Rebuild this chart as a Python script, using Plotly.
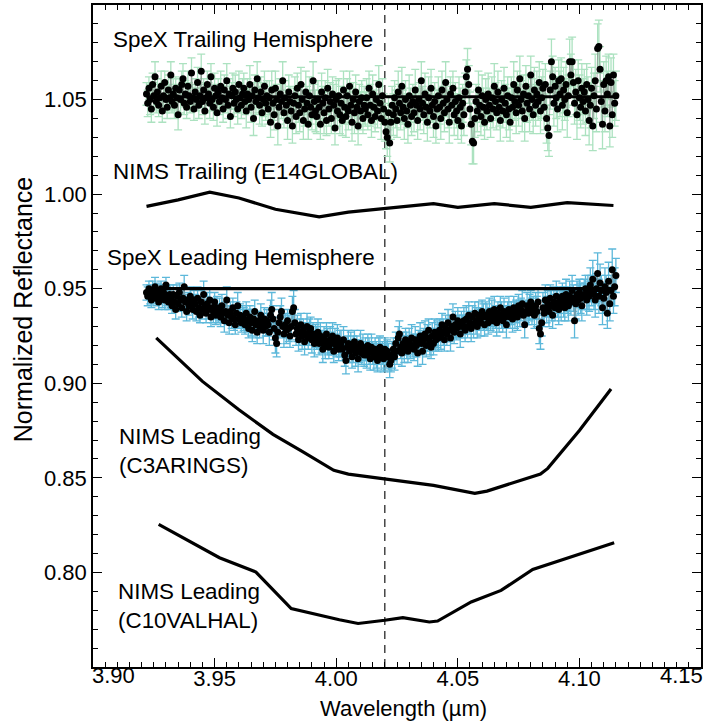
import numpy as np
import plotly.graph_objects as go

# ---------------- data ----------------
spex_x_start = 3.922
spex_x_step = 0.0005

trail_y = [
    1.053, 1.048, 1.056, 1.050, 1.045, 1.058, 1.052, 1.062, 1.049, 1.054, 1.047, 1.051, 1.057, 1.044, 1.052, 1.059, 1.050, 1.046, 1.055, 1.051,
    1.063, 1.049, 1.053, 1.047, 1.056, 1.051, 1.042, 1.055, 1.050, 1.058, 1.061, 1.048, 1.053, 1.046, 1.057, 1.052, 1.049, 1.064, 1.051, 1.045,
    1.054, 1.050, 1.059, 1.047, 1.052, 1.065, 1.049, 1.055, 1.044, 1.051, 1.058, 1.053, 1.048, 1.062, 1.050, 1.046, 1.056, 1.052, 1.043, 1.054,
    1.049, 1.057, 1.051, 1.045, 1.055, 1.050, 1.060, 1.047, 1.053, 1.041, 1.052, 1.056, 1.048, 1.054, 1.050, 1.045, 1.058, 1.051, 1.047, 1.053,
    1.056, 1.049, 1.044, 1.053, 1.050, 1.058, 1.046, 1.052, 1.040, 1.055, 1.049, 1.061, 1.051, 1.047, 1.054, 1.043, 1.050, 1.057, 1.048, 1.052,
    1.045, 1.051, 1.038, 1.055, 1.048, 1.042, 1.056, 1.050, 1.036, 1.046, 1.053, 1.049, 1.060, 1.043, 1.051, 1.047, 1.039, 1.054, 1.049, 1.044,
    1.036, 1.048, 1.052, 1.041, 1.056, 1.047, 1.043, 1.058, 1.050, 1.039, 1.045, 1.054, 1.048, 1.037, 1.052, 1.046, 1.042, 1.060, 1.049, 1.044,
    1.041, 1.050, 1.046, 1.037, 1.054, 1.048, 1.043, 1.051, 1.039, 1.056, 1.045, 1.049, 1.040, 1.053, 1.047, 1.035, 1.050, 1.044, 1.052, 1.042,
    1.048, 1.039, 1.055, 1.046, 1.041, 1.052, 1.044, 1.057, 1.047, 1.038, 1.050, 1.043, 1.054, 1.046, 1.036, 1.049, 1.044, 1.051, 1.040, 1.047,
    1.045, 1.051, 1.042, 1.056, 1.047, 1.039, 1.053, 1.046, 1.041, 1.050, 1.044, 1.058, 1.048, 1.040, 1.052, 1.045, 1.038, 1.033, 1.030, 1.043,
    1.027, 1.038, 1.047, 1.042, 1.051, 1.045, 1.039, 1.054, 1.048, 1.043, 1.057, 1.046, 1.040, 1.050, 1.044, 1.037, 1.052, 1.047, 1.041, 1.049,
    1.043, 1.055, 1.047, 1.039, 1.050, 1.045, 1.060, 1.048, 1.042, 1.053, 1.046, 1.038, 1.051, 1.044, 1.056, 1.047, 1.041, 1.049, 1.036, 1.045,
    1.052, 1.046, 1.040, 1.055, 1.048, 1.043, 1.059, 1.050, 1.045, 1.038, 1.053, 1.047, 1.056, 1.042, 1.049, 1.044, 1.039, 1.051, 1.046, 1.036,
    1.048, 1.042, 1.054, 1.062, 1.066, 1.058, 1.045, 1.037, 1.028, 1.027, 1.040, 1.049, 1.044, 1.055, 1.047, 1.041, 1.052, 1.046, 1.038, 1.050,
    1.044, 1.053, 1.047, 1.040, 1.051, 1.045, 1.057, 1.049, 1.043, 1.054, 1.046, 1.039, 1.050, 1.044, 1.056, 1.048, 1.042, 1.052, 1.045, 1.038,
    1.051, 1.046, 1.058, 1.049, 1.043, 1.055, 1.047, 1.061, 1.050, 1.044, 1.053, 1.040, 1.057, 1.048, 1.052, 1.045, 1.063, 1.050, 1.042, 1.055,
    1.047, 1.053, 1.049, 1.059, 1.044, 1.051, 1.056, 1.046, 1.058, 1.040, 1.035, 1.031, 1.055, 1.070, 1.062, 1.048, 1.057, 1.051, 1.045, 1.060,
    1.053, 1.061, 1.047, 1.055, 1.050, 1.058, 1.043, 1.052, 1.070, 1.063, 1.070, 1.059, 1.048, 1.054, 1.042, 1.060, 1.051, 1.046, 1.056, 1.049,
    1.054, 1.044, 1.058, 1.050, 1.039, 1.047, 1.056, 1.036, 1.052, 1.060, 1.045, 1.077, 1.078, 1.066, 1.049, 1.037, 1.058, 1.044, 1.060, 1.053,
    1.062, 1.036, 1.059, 1.042, 1.063, 1.048, 1.052,
]
trail_err_milli = [
    6, 7, 6, 8, 7, 6, 7, 8, 6, 7, 6, 7, 8, 6, 7, 6, 7, 6, 8, 7,
    7, 6, 8, 7, 6, 7, 8, 6, 7, 7, 8, 6, 7, 6, 8, 7, 6, 8, 7, 6,
    7, 6, 8, 7, 6, 9, 7, 6, 7, 8, 7, 6, 8, 7, 6, 7, 8, 6, 7, 7,
    7, 8, 6, 7, 8, 7, 9, 7, 8, 6, 7, 8, 7, 9, 7, 8, 7, 8, 7, 8,
    8, 7, 9, 8, 7, 10, 8, 7, 9, 8, 7, 9, 8, 10, 8, 7, 9, 8, 9, 8,
    8, 9, 8, 10, 9, 8, 9, 8, 10, 9, 8, 9, 10, 8, 9, 8, 10, 9, 8, 9,
    9, 8, 10, 9, 8, 9, 10, 9, 8, 10, 9, 11, 9, 8, 10, 9, 8, 10, 9, 11,
    9, 10, 9, 8, 10, 9, 11, 9, 8, 10, 9, 10, 8, 9, 11, 9, 10, 8, 9, 10,
    9, 8, 10, 9, 11, 9, 10, 8, 9, 10, 9, 11, 9, 8, 10, 9, 10, 9, 8, 10,
    9, 10, 8, 9, 11, 9, 10, 9, 8, 10, 9, 10, 9, 11, 9, 8, 10, 9, 10, 9,
    10, 9, 10, 11, 9, 10, 9, 11, 10, 9, 10, 9, 11, 10, 9, 10, 11, 9, 10, 9,
    10, 11, 9, 10, 9, 11, 10, 9, 10, 11, 9, 10, 11, 9, 10, 9, 11, 10, 9, 10,
    10, 9, 11, 10, 9, 10, 11, 9, 10, 11, 9, 10, 9, 11, 10, 9, 10, 11, 10, 9,
    10, 11, 10, 9, 11, 10, 9, 11, 12, 11, 10, 9, 11, 10, 9, 10, 11, 10, 9, 11,
    10, 11, 9, 10, 11, 10, 12, 10, 9, 11, 10, 11, 10, 9, 11, 10, 12, 10, 11, 10,
    11, 10, 12, 10, 11, 10, 11, 12, 10, 11, 10, 12, 11, 10, 11, 12, 10, 11, 10, 12,
    11, 12, 10, 11, 12, 11, 10, 12, 11, 13, 12, 11, 10, 12, 11, 12, 10, 11, 12, 11,
    12, 11, 13, 12, 11, 12, 13, 11, 12, 11, 13, 12, 11, 12, 13, 11, 12, 11, 13, 12,
    12, 13, 11, 12, 13, 12, 11, 13, 12, 14, 12, 13, 14, 12, 11, 13, 12, 11, 13, 12,
    12, 11, 13, 12, 11, 12, 13,
]

lead_y = [
    0.948, 0.946, 0.950, 0.947, 0.944, 0.949, 0.946, 0.951, 0.945, 0.948, 0.943, 0.947, 0.950, 0.945, 0.948, 0.944, 0.952, 0.946, 0.943, 0.947,
    0.945, 0.941, 0.947, 0.943, 0.939, 0.946, 0.942, 0.948, 0.944, 0.940, 0.945, 0.951, 0.943, 0.938, 0.944, 0.941, 0.946, 0.942, 0.939, 0.944,
    0.942, 0.938, 0.945, 0.940, 0.936, 0.943, 0.939, 0.947, 0.941, 0.937, 0.942, 0.939, 0.944, 0.935, 0.940, 0.938, 0.943, 0.936, 0.940, 0.937,
    0.939, 0.935, 0.941, 0.937, 0.933, 0.938, 0.944, 0.936, 0.932, 0.938, 0.935, 0.940, 0.934, 0.931, 0.937, 0.941, 0.934, 0.936, 0.932, 0.935,
    0.934, 0.931, 0.937, 0.933, 0.929, 0.935, 0.932, 0.928, 0.934, 0.938, 0.931, 0.927, 0.933, 0.930, 0.936, 0.932, 0.928, 0.934, 0.930, 0.933,
    0.931, 0.927, 0.936, 0.939, 0.934, 0.929, 0.924, 0.921, 0.927, 0.932, 0.935, 0.938, 0.930, 0.926, 0.931, 0.928, 0.933, 0.929, 0.925, 0.930,
    0.938, 0.940, 0.932, 0.926, 0.929, 0.923, 0.927, 0.931, 0.925, 0.928, 0.922, 0.926, 0.930, 0.924, 0.927, 0.929, 0.923, 0.926, 0.921, 0.925,
    0.924, 0.927, 0.921, 0.925, 0.922, 0.918, 0.924, 0.920, 0.926, 0.922, 0.919, 0.923, 0.921, 0.925, 0.917, 0.922, 0.920, 0.924, 0.918, 0.921,
    0.921, 0.918, 0.923, 0.915, 0.912, 0.919, 0.921, 0.917, 0.920, 0.914, 0.918, 0.922, 0.916, 0.919, 0.913, 0.917, 0.921, 0.916, 0.919, 0.915,
    0.918, 0.915, 0.920, 0.917, 0.913, 0.919, 0.916, 0.914, 0.918, 0.915, 0.912, 0.917, 0.919, 0.914, 0.916, 0.913, 0.918, 0.915, 0.917, 0.914,
    0.910, 0.912, 0.915, 0.918, 0.914, 0.921, 0.917, 0.924, 0.926, 0.919, 0.916, 0.921, 0.918, 0.923, 0.920, 0.917, 0.922, 0.919, 0.924, 0.920,
    0.918, 0.923, 0.920, 0.916, 0.922, 0.925, 0.921, 0.917, 0.923, 0.926, 0.920, 0.924, 0.928, 0.922, 0.919, 0.925, 0.921, 0.927, 0.923, 0.926,
    0.924, 0.928, 0.925, 0.931, 0.927, 0.923, 0.929, 0.926, 0.932, 0.928, 0.924, 0.930, 0.935, 0.927, 0.931, 0.929, 0.933, 0.930, 0.926, 0.932,
    0.930, 0.933, 0.928, 0.934, 0.930, 0.936, 0.932, 0.929, 0.935, 0.931, 0.937, 0.933, 0.930, 0.936, 0.934, 0.932, 0.938, 0.935, 0.931, 0.936,
    0.935, 0.932, 0.938, 0.934, 0.937, 0.933, 0.939, 0.935, 0.932, 0.937, 0.934, 0.940, 0.936, 0.933, 0.938, 0.935, 0.931, 0.937, 0.939, 0.935,
    0.937, 0.934, 0.940, 0.936, 0.938, 0.935, 0.941, 0.937, 0.939, 0.942, 0.936, 0.931, 0.938, 0.941, 0.937, 0.940, 0.943, 0.938, 0.940, 0.936,
    0.941, 0.938, 0.943, 0.929, 0.926, 0.932, 0.940, 0.937, 0.944, 0.939, 0.942, 0.938, 0.945, 0.941, 0.936, 0.943, 0.940, 0.946, 0.942, 0.939,
    0.944, 0.941, 0.946, 0.943, 0.940, 0.947, 0.944, 0.941, 0.946, 0.943, 0.949, 0.945, 0.933, 0.942, 0.947, 0.944, 0.948, 0.945, 0.941, 0.946,
    0.947, 0.950, 0.944, 0.948, 0.946, 0.952, 0.949, 0.955, 0.947, 0.944, 0.950, 0.958, 0.946, 0.953, 0.949, 0.940, 0.945, 0.951, 0.948, 0.937,
    0.954, 0.942, 0.949, 0.960, 0.946, 0.951, 0.957,
]
lead_err_milli = [
    4, 5, 4, 5, 4, 5, 4, 5, 4, 5, 4, 5, 4, 5, 4, 5, 4, 5, 4, 5,
    5, 4, 5, 4, 5, 6, 4, 5, 4, 5, 5, 6, 4, 5, 4, 5, 5, 4, 5, 5,
    5, 5, 6, 5, 4, 6, 5, 7, 5, 5, 6, 5, 6, 5, 5, 6, 5, 5, 6, 5,
    6, 5, 6, 5, 6, 5, 7, 5, 6, 5, 6, 5, 6, 5, 6, 7, 5, 6, 5, 6,
    6, 5, 6, 6, 5, 6, 7, 6, 5, 6, 7, 6, 5, 6, 6, 5, 7, 6, 5, 6,
    6, 7, 8, 9, 7, 6, 8, 7, 6, 7, 6, 7, 6, 7, 6, 7, 6, 7, 6, 7,
    8, 9, 7, 6, 7, 6, 7, 6, 7, 6, 7, 6, 7, 6, 7, 6, 7, 6, 7, 6,
    6, 7, 6, 7, 6, 7, 6, 7, 6, 7, 6, 7, 6, 7, 6, 7, 6, 7, 6, 7,
    7, 6, 7, 6, 7, 6, 7, 6, 7, 6, 7, 6, 7, 6, 7, 6, 7, 6, 7, 6,
    6, 7, 6, 7, 6, 7, 6, 7, 6, 7, 6, 7, 6, 7, 6, 7, 6, 7, 6, 7,
    7, 6, 7, 6, 7, 6, 7, 6, 7, 6, 7, 6, 7, 6, 7, 6, 7, 6, 7, 6,
    6, 7, 6, 7, 6, 7, 6, 7, 6, 7, 6, 7, 6, 7, 6, 7, 6, 7, 6, 7,
    7, 6, 7, 6, 7, 6, 7, 6, 7, 6, 7, 6, 7, 6, 7, 6, 7, 6, 7, 6,
    6, 7, 6, 7, 6, 7, 6, 7, 6, 7, 6, 7, 6, 7, 6, 7, 6, 7, 6, 7,
    7, 6, 7, 6, 7, 6, 7, 6, 7, 6, 7, 6, 7, 6, 7, 6, 7, 6, 7, 6,
    6, 7, 6, 7, 6, 7, 6, 7, 6, 7, 6, 7, 6, 7, 6, 7, 6, 7, 6, 7,
    7, 8, 7, 8, 8, 7, 8, 7, 8, 7, 7, 8, 7, 8, 7, 8, 7, 8, 7, 8,
    7, 8, 7, 8, 7, 8, 7, 8, 8, 7, 8, 7, 9, 8, 7, 8, 7, 8, 8, 7,
    8, 7, 8, 9, 8, 9, 8, 10, 8, 9, 8, 11, 9, 10, 8, 9, 8, 10, 9, 8,
    10, 9, 8, 11, 9, 10, 9,
]

trail_level = 1.0515
lead_level = 0.950
level_x = [3.922, 4.115]

nims_trail_x = [3.922, 3.935, 3.948, 3.960, 3.975, 3.993, 4.005, 4.020, 4.040, 4.050, 4.065, 4.080, 4.095, 4.114]
nims_trail_y = [0.9935, 0.997, 1.001, 0.998, 0.992, 0.988, 0.9905, 0.9925, 0.995, 0.993, 0.995, 0.993, 0.9955, 0.994]

nims_c3_x = [3.926, 3.945, 3.960, 3.974, 3.986, 3.999, 4.005, 4.020, 4.040, 4.057, 4.062, 4.084, 4.087, 4.100, 4.113]
nims_c3_y = [0.924, 0.901, 0.886, 0.873, 0.864, 0.854, 0.852, 0.8495, 0.846, 0.8418, 0.843, 0.852, 0.855, 0.875, 0.897]

nims_c10_x = [3.927, 3.952, 3.967, 3.9815, 4.0013, 4.009, 4.020, 4.0274, 4.0383, 4.0417, 4.0555, 4.0678, 4.0808, 4.1143]
nims_c10_y = [0.8254, 0.8078, 0.8002, 0.7809, 0.7750, 0.7730, 0.7747, 0.7761, 0.7738, 0.7743, 0.7844, 0.7905, 0.8016, 0.8157]

marker_line_x = 4.02

labels = [
    ("SpeX Trailing Hemisphere", 3.9072, 1.0815),
    ("NIMS Trailing (E14GLOBAL)", 3.9072, 1.0122),
    ("SpeX Leading Hemisphere", 3.9050, 0.9665),
    ("NIMS Leading<br>(C3ARINGS)", 3.9097, 0.8640),
    ("NIMS Leading<br>(C10VALHAL)", 3.9093, 0.7820),
]

x_range = [3.90, 4.15]
y_range = [0.75, 1.10]
x_ticks = [3.95, 4.00, 4.05, 4.10]
x_edge_labels = ["3.90", "4.15"]
y_ticks = [0.80, 0.85, 0.90, 0.95, 1.00, 1.05]
x_title = "Wavelength (µm)"
y_title = "Normalized Reflectance"

# ---------------- figure ----------------
spex_x = [round(spex_x_start + spex_x_step * i, 5) for i in range(len(trail_y))]
trail_err = [e / 1000 for e in trail_err_milli]
lead_err = [e / 1000 for e in lead_err_milli]

FONT = "Arial, Liberation Sans, sans-serif"
FS = 22
fig = go.Figure()

for ys, errs, ecol in [(trail_y, trail_err, "rgb(172,226,192)"),
                       (lead_y, lead_err, "rgb(92,184,218)")]:
    fig.add_trace(go.Scatter(
        x=spex_x, y=ys, mode="lines+markers",
        line=dict(color="rgb(130,130,130)", width=0.6),
        marker=dict(color="black", size=7, line=dict(width=0)),
        error_y=dict(type="data", array=errs, visible=True,
                     color=ecol, thickness=1.3, width=4),
        showlegend=False, hoverinfo="skip"))

for lvl in [trail_level, lead_level]:
    fig.add_trace(go.Scatter(x=level_x, y=[lvl, lvl], mode="lines",
                             line=dict(color="black", width=3.2),
                             showlegend=False, hoverinfo="skip"))

for xs, ys in [(nims_trail_x, nims_trail_y), (nims_c3_x, nims_c3_y), (nims_c10_x, nims_c10_y)]:
    fig.add_trace(go.Scatter(x=xs, y=ys, mode="lines",
                             line=dict(color="black", width=3.2),
                             showlegend=False, hoverinfo="skip"))

fig.add_shape(type="line", xref="x", yref="paper", x0=marker_line_x, x1=marker_line_x,
              y0=0, y1=1, line=dict(color="black", width=1.1, dash="8px,6px"), layer="below")

for text, lx, ly in labels:
    fig.add_annotation(x=lx, y=ly, xref="x", yref="y", text=text, showarrow=False,
                       xanchor="left", yanchor="middle", align="left",
                       font=dict(family=FONT, size=22.4, color="black"))

# edge tick labels kept inside the figure, as in the original
fig.add_annotation(x=x_range[0], y=0, xref="x", yref="paper", text=x_edge_labels[0],
                   showarrow=False, xanchor="left", yanchor="top", yshift=6, xshift=-3,
                   font=dict(family=FONT, size=FS, color="black"))
fig.add_annotation(x=x_range[1], y=0, xref="x", yref="paper", text=x_edge_labels[1],
                   showarrow=False, xanchor="right", yanchor="top", yshift=6, xshift=4,
                   font=dict(family=FONT, size=FS, color="black"))

# axis titles
fig.add_annotation(x=0.51, y=0, xref="paper", yref="paper", text=x_title, showarrow=False,
                   xanchor="center", yanchor="middle", yshift=-41,
                   font=dict(family=FONT, size=FS, color="black"))
fig.add_annotation(x=0, y=0.539, xref="paper", yref="paper", text=y_title, showarrow=False,
                   xanchor="center", yanchor="middle", xshift=-70, textangle=-90,
                   font=dict(family=FONT, size=25, color="black"))

axis_common = dict(showline=True, linecolor="black", linewidth=1.6, mirror="allticks",
                   ticks="inside", ticklen=9, tickwidth=1.4, tickcolor="black",
                   showgrid=False, zeroline=False, automargin=False,
                   tickfont=dict(family=FONT, size=FS, color="black"),
                   tickformat=".2f")

fig.update_xaxes(range=x_range, tickmode="array", tickvals=x_ticks, ticklabelstandoff=-9,
                 minor=dict(tickmode="linear", tick0=3.90, dtick=0.005, ticks="inside",
                            ticklen=5, tickwidth=1.2, tickcolor="black", showgrid=False),
                 **axis_common)
fig.update_yaxes(range=y_range, tickmode="array", tickvals=y_ticks,
                 minor=dict(tickmode="linear", tick0=0.75, dtick=0.01, ticks="inside",
                            ticklen=5, tickwidth=1.2, tickcolor="black", showgrid=False),
                 **axis_common)

fig.update_layout(width=707, height=726, autosize=False,
                  margin=dict(l=93, r=6, t=5, b=59, pad=0),
                  plot_bgcolor="white", paper_bgcolor="white")

fig.write_html("out.html", config={"displayModeBar": False},
               post_script="document.body.style.margin='0px';document.body.style.overflow='hidden';")
